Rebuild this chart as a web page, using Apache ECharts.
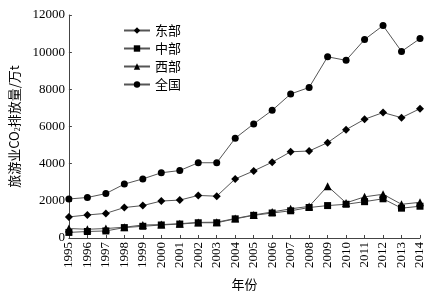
<!DOCTYPE html>
<html>
<head>
<meta charset="utf-8">
<style>
  html, body { margin: 0; padding: 0; background: #fff; }
  #chart { width: 444px; height: 296px; }
</style>
<script src="https://cdn.jsdelivr.net/npm/echarts@6/dist/echarts.min.js"></script>
</head>
<body>
<div id="chart"></div>
<script>
var years = ['1995', '1996', '1997', '1998', '1999', '2000', '2001', '2002', '2003', '2004',
  '2005', '2006', '2007', '2008', '2009', '2010', '2011', '2012', '2013', '2014']
var east = [1135, 1240, 1325, 1640, 1745, 1990, 2040, 2290, 2250, 3180,
  3610, 4080, 4640, 4680, 5130, 5830, 6390, 6750, 6475, 6960]
var central = [300, 350, 380, 560, 630, 700, 750, 820, 820, 1030,
  1220, 1345, 1465, 1640, 1745, 1815, 1955, 2110, 1605, 1710]
var west = [510, 470, 510, 580, 700, 720, 770, 840, 850, 1050,
  1240, 1400, 1570, 1700, 2790, 1890, 2215, 2355, 1815, 1920]
var nation = [2100, 2180, 2390, 2900, 3180, 3510, 3630, 4050, 4050, 5370,
  6140, 6870, 7750, 8100, 9750, 9560, 10680, 11430, 10040, 10730]
var yTicks = [0, 2000, 4000, 6000, 8000, 10000, 12000]

var serif = 'Liberation Serif'
var cjk = 'Noto Sans CJK SC'

function makeSeries(name, data, symbol, size) {
  return {
    name: name,
    type: 'line',
    data: data,
    symbol: symbol,
    symbolSize: size,
    lineStyle: { color: '#555', width: 1 },
    itemStyle: { color: '#000' },
    animation: false
  }
}

var chart = echarts.init(document.getElementById('chart'))
chart.setOption({
  backgroundColor: '#fff',
  grid: { left: 63, right: 24, top: 15, bottom: 52 },
  legend: {
    orient: 'vertical',
    left: 118,
    top: 19,
    itemGap: 5,
    itemWidth: 26,
    itemHeight: 8,
    textStyle: { fontFamily: cjk, fontSize: 13, color: '#000' },
    data: ['东部', '中部', '西部', '全国']
  },
  xAxis: {
    type: 'category',
    data: years,
    boundaryGap: false,
    name: '年份',
    nameLocation: 'middle',
    nameGap: 40,
    nameTextStyle: { fontFamily: cjk, fontSize: 13, color: '#000' },
    axisLine: { lineStyle: { color: '#444', width: 1 } },
    axisTick: { inside: true, length: 3, lineStyle: { color: '#444' } },
    axisLabel: { rotate: 90, fontFamily: serif, fontSize: 13, color: '#000', margin: 4 }
  },
  yAxis: {
    type: 'value',
    min: 0,
    max: 12000,
    interval: 2000,
    name: '旅游业CO{sub|2}排放量/万t',
    nameLocation: 'middle',
    nameRotate: 90,
    nameGap: 37,
    nameTextStyle: {
      fontFamily: cjk, fontSize: 13, color: '#000',
      rich: { sub: { fontFamily: serif, fontSize: 8, color: '#000', verticalAlign: 'bottom', padding: [6, 0, 0, 0] } }
    },
    splitLine: { show: false },
    axisLine: { show: true, lineStyle: { color: '#444', width: 1 } },
    axisTick: { show: true, inside: true, length: 3, lineStyle: { color: '#444' } },
    axisLabel: {
      fontFamily: serif, fontSize: 13, color: '#000', margin: 4,
      formatter: function (v) { return yTicks.indexOf(v) >= 0 ? String(v) : '' }
    }
  },
  series: [
    makeSeries('东部', east, 'diamond', 8),
    makeSeries('中部', central, 'rect', 7),
    makeSeries('西部', west, 'triangle', 8),
    makeSeries('全国', nation, 'circle', 7)
  ]
})
</script>
</body>
</html>
